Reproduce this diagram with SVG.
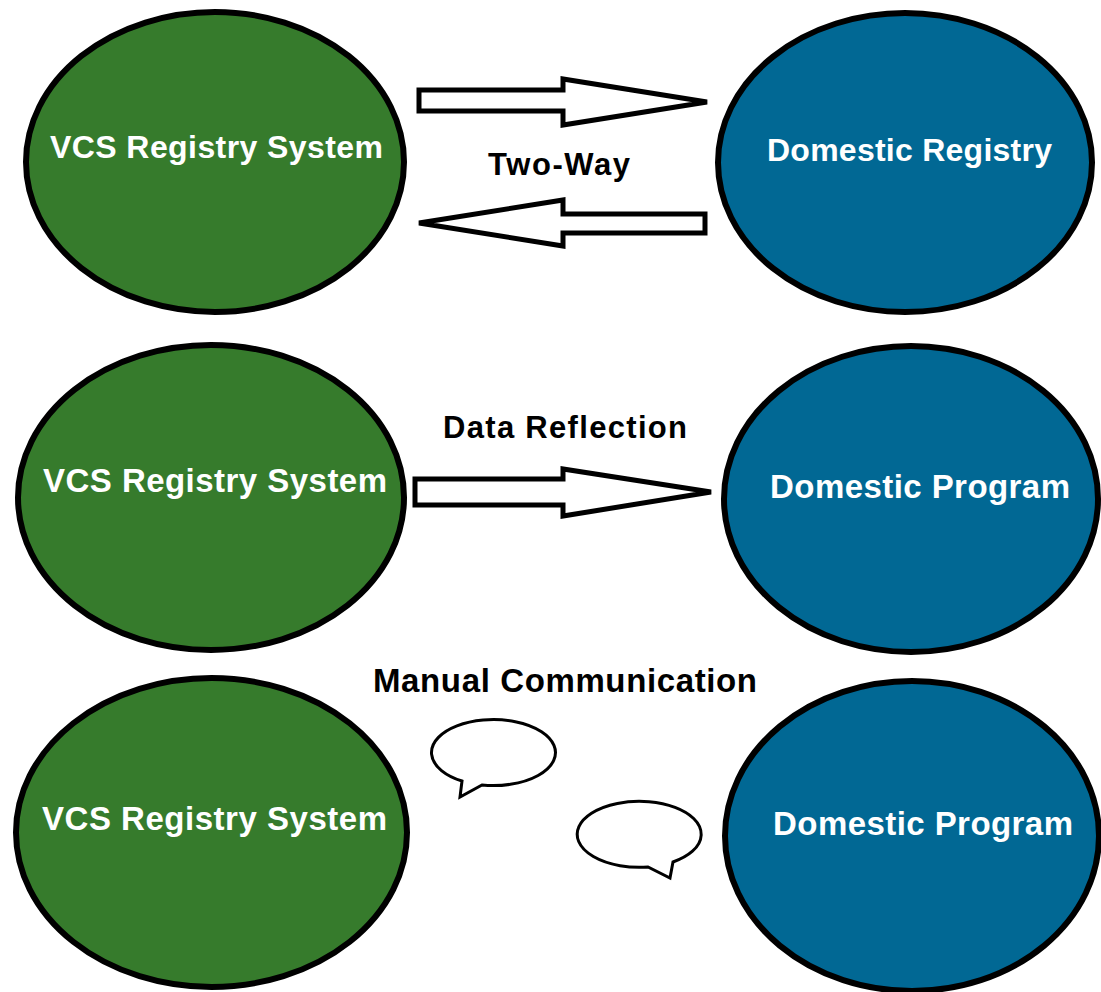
<svg xmlns="http://www.w3.org/2000/svg" width="1101" height="992" viewBox="0 0 1101 992">
<style>
.g{fill:#367b2c;stroke:#000;stroke-width:6}
.b{fill:#016894;stroke:#000;stroke-width:6}
.nt{fill:#fff;font-family:"Liberation Sans",Arial,sans-serif;font-weight:bold}
.lt{fill:#000;font-family:"Liberation Sans",Arial,sans-serif;font-weight:bold}
.arr{fill:#fff;stroke:#000;stroke-width:5;stroke-linejoin:miter}
.bub{fill:#fff;stroke:#000;stroke-width:3;stroke-linejoin:miter}
</style>
<rect width="1101" height="992" fill="#fff"/>
<g id="vcs1"><ellipse class="g" cx="215" cy="162" rx="189" ry="150"/><text class="nt" x="50" y="158" font-size="32" textLength="333">VCS Registry System</text></g>
<g id="domreg"><ellipse class="b" cx="905" cy="162.5" rx="187" ry="149.5"/><text class="nt" x="767" y="161" font-size="32" textLength="285">Domestic Registry</text></g>
<g id="vcs2"><ellipse class="g" cx="211" cy="497.5" rx="193" ry="152.5"/><text class="nt" x="43" y="492" font-size="33" textLength="344">VCS Registry System</text></g>
<g id="domprog1"><ellipse class="b" cx="911" cy="499" rx="187" ry="153"/><text class="nt" x="770" y="498" font-size="33" textLength="300">Domestic Program</text></g>
<g id="vcs3"><ellipse class="g" cx="211.5" cy="832.5" rx="195.5" ry="154.5"/><text class="nt" x="42" y="830" font-size="33" textLength="345">VCS Registry System</text></g>
<g id="domprog2"><ellipse class="b" cx="912" cy="836" rx="187" ry="155"/><text class="nt" x="773" y="835" font-size="33" textLength="300">Domestic Program</text></g>
<g id="connectors">
<path class="arr" d="M419,90 L563,90 L563,79 L707,102 L563,125 L563,111 L419,111 Z"/>
<path class="arr" d="M705,214 L563,214 L563,200 L419,223 L563,246 L563,233 L705,233 Z"/>
<path class="arr" d="M415,479 L563,479 L563,469 L711,492 L563,516 L563,505 L415,505 Z"/>
<path class="bub" d="M482,785 A62,33 0 1 0 462,781 L460,797 Z"/>
<path class="bub" d="M673,862 A62,33 0 1 0 648,867 L670,878 Z"/>
</g>
<g id="labels">
<text class="lt" x="488" y="175" font-size="31" textLength="142">Two-Way</text>
<text class="lt" x="443" y="438" font-size="31" textLength="244">Data Reflection</text>
<text class="lt" x="373" y="692" font-size="33" textLength="384">Manual Communication</text>
</g>
</svg>
